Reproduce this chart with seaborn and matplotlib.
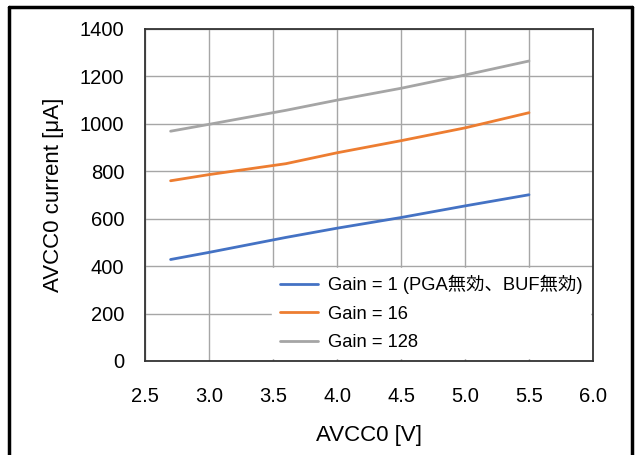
import numpy as np
import pandas as pd
import matplotlib
matplotlib.use("Agg")
import matplotlib.pyplot as plt
import seaborn as sns
from matplotlib.lines import Line2D

voltage = [2.7, 3.0, 3.6, 4.0, 4.5, 5.0, 5.5]
gain1 = [428, 458, 521, 560, 605, 654, 701]
gain16 = [760, 786, 832, 878, 929, 983, 1047]
gain128 = [969, 998, 1057, 1100, 1150, 1206, 1265]
series_names = ["Gain = 1 (PGA無効、BUF無効)", "Gain = 16", "Gain = 128"]
colors = ["#4472C4", "#ED7D31", "#A5A5A5"]
xticks = [2.5, 3.0, 3.5, 4.0, 4.5, 5.0, 5.5, 6.0]
yticks = [0, 200, 400, 600, 800, 1000, 1200, 1400]

sns.set_theme(style="white")
plt.rcParams['font.family'] = ['Liberation Sans', 'Noto Sans CJK JP', 'DejaVu Sans']

df = pd.concat([
    pd.DataFrame({"V": voltage, "I": vals, "series": name})
    for name, vals in zip(series_names, [gain1, gain16, gain128])
])

fig = plt.figure(figsize=(6.35, 4.55), dpi=100)
ax = fig.add_axes([145/635, 1-361/455, (593-145)/635, (361-29)/455])

sns.lineplot(data=df, x="V", y="I", hue="series", palette=colors,
             linewidth=2.0, ax=ax, legend=True)

ax.set_xlim(2.5, 6.0)
ax.set_ylim(0, 1400)
ax.set_xticks(xticks)
ax.set_xticklabels([f"{t:.1f}" for t in xticks])
ax.set_yticks(yticks)
ax.set_yticklabels([str(t) for t in yticks])
ax.grid(True, color="#A6A6A6", linewidth=1.0)
ax.set_axisbelow(True)
ax.tick_params(axis="both", length=0, labelsize=14.5, colors="black")
ax.tick_params(axis="y", pad=15)
ax.tick_params(axis="x", pad=18.5)
for s in ax.spines.values():
    s.set_visible(True)
    s.set_color("#333333")
    s.set_linewidth(1.3)

ax.set_xlabel("AVCC0 [V]", fontsize=16, color="black", labelpad=14)
ax.set_ylabel("AVCC0 current [μA]", fontsize=16, color="black", labelpad=11)

leg = ax.legend(loc="lower right", bbox_to_anchor=(1.0, 0.0), frameon=True,
                fontsize=13.2, handlelength=2.1, handletextpad=0.55,
                labelspacing=0.62, borderaxespad=0.15)
leg.get_frame().set_edgecolor("white")
leg.get_frame().set_facecolor("white")
leg.get_frame().set_alpha(1.0)
leg.get_frame().set_boxstyle("square", pad=0.0)
for t in leg.get_texts():
    t.set_color("black")

# outer border
bx0, bx1 = 9/635, 632/635
by1 = 1 - 7/455
for xs, ys in [([bx0, bx0], [-0.02, by1]), ([bx0, bx1], [by1, by1]), ([bx1, bx1], [by1, -0.02])]:
    fig.add_artist(Line2D(xs, ys, transform=fig.transFigure, color="black", linewidth=2.5))

fig.savefig("out.png", dpi=100)
